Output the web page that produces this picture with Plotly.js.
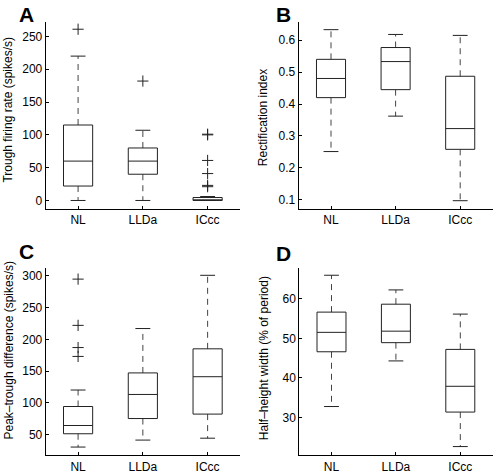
<!DOCTYPE html>
<html>
<head>
<meta charset="utf-8">
<script src="https://cdn.plot.ly/plotly-3.0.1.min.js"></script>
<style>html,body{margin:0;padding:0;background:#fff;}#chart{width:496px;height:472px;}</style>
</head>
<body>
<div id="chart"></div>
<script>
// ---- data ----
const categories = ['NL', 'LLDa', 'ICcc'];

// Panel A: trough firing rate (spikes/s)
const troughLower = [0, 0, 0];
const troughQ1 = [22, 40, 0];
const troughMedian = [60, 60, 1];
const troughQ3 = [115, 80, 4.5];
const troughUpper = [220, 107, 6];
const troughOutliers = [[261], [182], [101, 100, 61, 41, 23, 21]];

// Panel B: rectification index
const rectLower = [0.251, 0.362, 0.097];
const rectQ1 = [0.42, 0.445, 0.258];
const rectMedian = [0.48, 0.533, 0.323];
const rectQ3 = [0.54, 0.577, 0.487];
const rectUpper = [0.633, 0.618, 0.615];
const rectOutliers = [[], [], []];

// Panel C: peak-trough difference (spikes/s)
const ptdLower = [30, 41, 44];
const ptdQ1 = [51, 75, 82];
const ptdMedian = [64, 113, 141];
const ptdQ3 = [94, 147, 185];
const ptdUpper = [120, 217, 301];
const ptdOutliers = [[295, 222, 187, 173], [], []];

// Panel D: half-height width (% of period)
const hhwLower = [32.8, 44.3, 22.7];
const hhwQ1 = [46.6, 48.9, 31.4];
const hhwMedian = [51.5, 51.8, 37.9];
const hhwQ3 = [56.6, 58.6, 47.2];
const hhwUpper = [65.9, 62.2, 56.1];
const hhwOutliers = [[], [], []];

const yTitles = ['Trough firing rate (spikes/s)', 'Rectification index',
  'Peak\u2013trough difference (spikes/s)', 'Half\u2013height width (% of period)'];
const panelLetters = ['A', 'B', 'C', 'D'];

// ---- build ----
const panels = [
  {lo: troughLower, q1: troughQ1, med: troughMedian, q3: troughQ3, hi: troughUpper, out: troughOutliers,
   range: [-13, 272], dtick: 50, dom: [[45.7, 240], [22, 209]]},
  {lo: rectLower, q1: rectQ1, med: rectMedian, q3: rectQ3, hi: rectUpper, out: rectOutliers,
   range: [0.071, 0.657], dtick: 0.1, dom: [[298.7, 492.5], [22, 209]]},
  {lo: ptdLower, q1: ptdQ1, med: ptdMedian, q3: ptdQ3, hi: ptdUpper, out: ptdOutliers,
   range: [17, 313], dtick: 50, dom: [[45.7, 240], [267.7, 455.3]]},
  {lo: hhwLower, q1: hhwQ1, med: hhwMedian, q3: hhwQ3, hi: hhwUpper, out: hhwOutliers,
   range: [20.5, 67.8], dtick: 10, dom: [[299.3, 492.5], [267.7, 455.3]]}
];

const W = 496, H = 472;
const halfBox = 0.225, halfCap = 0.115;
const boxColor = '#222', whiskColor = '#444';
const traces = [];
const layout = {
  width: W, height: H, margin: {l: 0, r: 0, t: 0, b: 0},
  paper_bgcolor: '#fff', plot_bgcolor: '#fff', showlegend: false,
  font: {family: 'Liberation Sans, Arial, sans-serif', size: 12, color: '#000'},
  annotations: []
};
const titlePos = [[8, 109.6], [263.7, 117.5], [8, 350.5], [263.7, 358.5]];
const letterPos = [[17, 14.5], [274, 14.5], [17, 251], [274, 253.5]];

panels.forEach((p, k) => {
  const xa = 'x' + (k === 0 ? '' : k + 1), ya = 'y' + (k === 0 ? '' : k + 1);
  categories.forEach((c, i) => {
    const x = i + 1;
    traces.push({type: 'scatter', mode: 'lines', xaxis: xa, yaxis: ya, hoverinfo: 'skip',
      x: [x, x, null, x, x], y: [p.q3[i], p.hi[i], null, p.q1[i], p.lo[i]],
      line: {color: whiskColor, width: 1, dash: '6px,5px'}});
    traces.push({type: 'scatter', mode: 'lines', xaxis: xa, yaxis: ya, hoverinfo: 'skip',
      x: [x - halfCap, x + halfCap, null, x - halfCap, x + halfCap],
      y: [p.hi[i], p.hi[i], null, p.lo[i], p.lo[i]],
      line: {color: boxColor, width: 1}});
    traces.push({type: 'scatter', mode: 'lines', xaxis: xa, yaxis: ya, hoverinfo: 'skip',
      x: [x - halfBox, x + halfBox, x + halfBox, x - halfBox, x - halfBox],
      y: [p.q1[i], p.q1[i], p.q3[i], p.q3[i], p.q1[i]],
      line: {color: boxColor, width: 1}});
    traces.push({type: 'scatter', mode: 'lines', xaxis: xa, yaxis: ya, hoverinfo: 'skip',
      x: [x - halfBox, x + halfBox], y: [p.med[i], p.med[i]],
      line: {color: boxColor, width: 1}});
    if (p.out[i].length) {
      traces.push({type: 'scatter', mode: 'markers', xaxis: xa, yaxis: ya, hoverinfo: 'skip',
        x: p.out[i].map(() => x), y: p.out[i],
        marker: {symbol: 'cross-thin-open', size: 8, color: '#222', line: {color: '#222', width: 1}}});
    }
  });
  const xKey = 'xaxis' + (k === 0 ? '' : k + 1), yKey = 'yaxis' + (k === 0 ? '' : k + 1);
  layout[xKey] = {
    domain: [p.dom[0][0] / W, p.dom[0][1] / W], anchor: ya,
    range: [0.5, 3.5], tickvals: [1, 2, 3], ticktext: categories,
    showline: true, linecolor: '#000', linewidth: 1, ticks: 'inside', ticklen: 3, tickcolor: '#000',
    showgrid: false, zeroline: false, fixedrange: true, ticklabelstandoff: 0
  };
  layout[yKey] = {
    domain: [1 - p.dom[1][1] / H, 1 - p.dom[1][0] / H], anchor: xa,
    range: p.range, dtick: p.dtick,
    showline: true, linecolor: '#000', linewidth: 1, ticks: 'inside', ticklen: 3, tickcolor: '#000',
    showgrid: false, zeroline: false, fixedrange: true
  };
  layout.annotations.push({
    xref: 'paper', yref: 'paper', x: titlePos[k][0] / W, y: 1 - titlePos[k][1] / H,
    xanchor: 'center', yanchor: 'middle', textangle: -90, showarrow: false,
    text: yTitles[k], font: {size: 12}
  });
  layout.annotations.push({
    xref: 'paper', yref: 'paper', x: letterPos[k][0] / W, y: 1 - letterPos[k][1] / H,
    xanchor: 'left', yanchor: 'middle', showarrow: false,
    text: '<b>' + panelLetters[k] + '</b>', font: {size: 21}
  });
});

Plotly.newPlot('chart', traces, layout, {displayModeBar: false, staticPlot: true});
</script>
</body>
</html>
